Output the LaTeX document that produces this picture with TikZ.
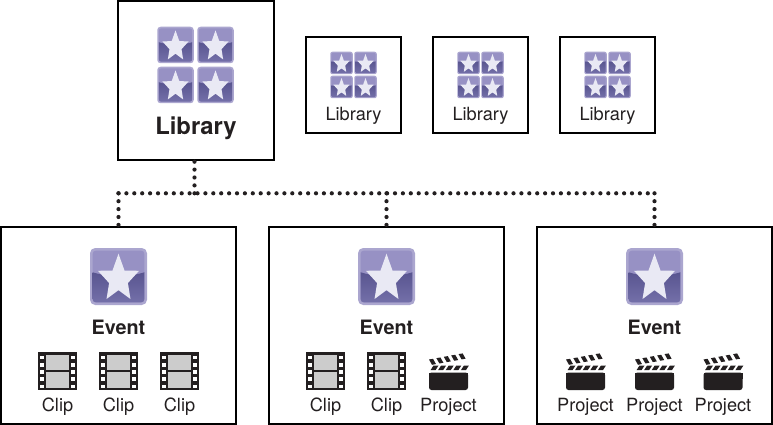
\documentclass[tikz,border=0pt]{standalone}
\usepackage{fontspec}
\setmainfont{TeX Gyre Heros}
\usepackage{tikz}
\usetikzlibrary{calc}
\usetikzlibrary{positioning}

\definecolor{iconrim}{HTML}{ABA6CF}
\definecolor{icontop}{HTML}{9791C4}
\definecolor{icondark}{HTML}{58548F}
\definecolor{iconlow}{HTML}{7672AB}
\definecolor{iconstar}{HTML}{E9E9F4}
\definecolor{inkblack}{HTML}{231F20}

\tikzset{
 pics/staricon/.style={code={
   \begin{scope}[scale=#1]
   \fill[iconrim,rounded corners=0.09*#1] (-0.5,-0.5) rectangle (0.5,0.5);
   \begin{scope}
    \clip[rounded corners=0.06*#1] (-0.455,-0.455) rectangle (0.455,0.455);
    \fill[icontop] (-0.5,-0.5) rectangle (0.5,0.5);
    \shade[top color=icondark,bottom color=iconlow] (-0.5,-0.09) .. controls (-0.2,0.02) and (0.2,0.02) .. (0.5,-0.09) -- (0.5,0.5) -- (-0.5,0.5) -- cycle;
   \end{scope}
   \fill[iconstar] (0,-0.40) -- (0.105,-0.105) -- (0.36,-0.10) -- (0.165,0.115) -- (0.21,0.395) -- (0,0.24) -- (-0.21,0.395) -- (-0.165,0.115) -- (-0.36,-0.10) -- (-0.105,-0.105) -- cycle;
   \end{scope}
 }},
 pics/filmicon/.style={code={
   \fill[inkblack] (-19.5,-19) rectangle (19.5,19);
   \fill[black!20] (-11.5,-16) rectangle (11.5,-1);
   \fill[black!20] (-11.5,1) rectangle (11.5,17);
   \foreach \k in {0,...,4}{
     \fill[white] (-17.3,-15.3+7.2*\k) rectangle (-13.7,-11.7+7.2*\k);
     \fill[white] (13.7,-15.3+7.2*\k) rectangle (17.3,-11.7+7.2*\k);
   }
 }},
 pics/clapicon/.style={code={
   \fill[inkblack,rounded corners=2.5pt] (-19.5,1.5) rectangle (19.5,19);
   \fill[inkblack] (-19.5,1.5) rectangle (19.5,8);
   \foreach \k in {0,...,4}{
     \fill[inkblack] (-18+7.6*\k,-0.8) -- (-13+7.6*\k,-0.8) -- (-10+7.6*\k,-5.5) -- (-15+7.6*\k,-5.5) -- cycle;
     \fill[inkblack] (-19.5+7.4*\k,-11.5-1.35*\k) -- (-15.5+7.4*\k,-12.2-1.35*\k) -- (-12.5+7.4*\k,-6.9-1.35*\k) -- (-16.5+7.4*\k,-6.2-1.35*\k) -- cycle;
   }
 }}
}

\begin{document}
\begin{tikzpicture}[x=1pt,y=-1pt,semithick]
 \tikzstyle{bigbox}=[draw=black,line width=2.2pt,minimum width=155.4pt,minimum height=158.4pt]
 \tikzstyle{smallbox}=[draw=black,line width=2.2pt,minimum width=94.4pt,minimum height=95.4pt]
 \tikzstyle{eventbox}=[draw=black,line width=2.2pt,minimum width=234.4pt,minimum height=196.4pt]
 \tikzstyle{dots}=[line width=4.2pt,line cap=round,dash pattern=on 0pt off 7.9pt,inkblack]
 \tikzstyle{biglabel}=[anchor=base,inner sep=0pt,inkblack,font=\fontsize{23.8}{24}\selectfont\bfseries]
 \tikzstyle{eventlabel}=[anchor=base,inner sep=0pt,inkblack,font=\fontsize{19.8}{20}\selectfont\bfseries]
 \tikzstyle{smalllabel}=[anchor=base,inner sep=0pt,inkblack,font=\fontsize{18.2}{18}\selectfont]
 \useasboundingbox (0,0) rectangle (773,425);

 \node[bigbox] (L) at (196,80.5) {};
 \node[smallbox,node distance=127pt] (L1) at (353.5,85) {};
 \node[smallbox,node distance=127pt] (L2) [right of=L1] {};
 \node[smallbox,node distance=127pt] (L3) [right of=L2] {};
 \node[eventbox,node distance=268pt] (E1) at (118.5,325.5) {};
 \node[eventbox,node distance=268pt] (E2) [right of=E1] {};
 \node[eventbox,node distance=268pt] (E3) [right of=E2] {};

 % dotted links
 \coordinate (T) at (194.5,193.3);
 \coordinate (T1) at (E1.north |- T);
 \coordinate (T2) at (E2.north |- T);
 \coordinate (T3) at (E3.north |- T);
 \draw[dots] (T) -- (194.5,160);
 \draw[dots] (T1) -- (T3);
 \foreach \j in {1,...,3}{
   \draw[dots] (T\j) -- ([yshift=1pt]E\j.north);
 }

 % library icons
 \foreach \dx in {-20,20}{
   \foreach \dy in {-20,20}{
     \pic at ($(L)+(\dx-0.5,\dy-15.5)$) {staricon=36.5};
   }
 }
 \node[biglabel] (Ltext) at ($(L)+(0,54.5)$) {Library};
 \foreach \j in {1,...,3}{
   \foreach \dx in {-12,12}{
     \foreach \dy in {-12,12}{
       \pic at ($(L\j)+(\dx,\dy-10)$) {staricon=22.5};
     }
   }
   \node[smalllabel] (Ltext\j) at ($(L\j)+(0,36)$) {Library};
 }

 % events
 \foreach \j in {1,...,3}{
   \pic at ($(E\j)+(0,-49)$) {staricon=57};
   \node[eventlabel] (Etext\j) at ($(E\j)+(0,9)$) {Event};
 }

 % clips and projects
 \foreach \e/\dx/\n in {E1/-61/a,E1/0/b,E1/61/c,E2/-61/d,E2/0/e}{
   \pic at ($(\e)+(\dx,45.5)$) {filmicon};
   \node[smalllabel] (clip\n) at ($(\e)+(\dx,85.5)$) {Clip};
 }
 \foreach \e/\dx/\n in {E2/62/a,E3/-69/b,E3/0/c,E3/68.5/d}{
   \pic at ($(\e)+(\dx,45.5)$) {clapicon};
   \node[smalllabel] (proj\n) at ($(\e)+(\dx,85.5)$) {Project};
 }
\end{tikzpicture}
\end{document}
